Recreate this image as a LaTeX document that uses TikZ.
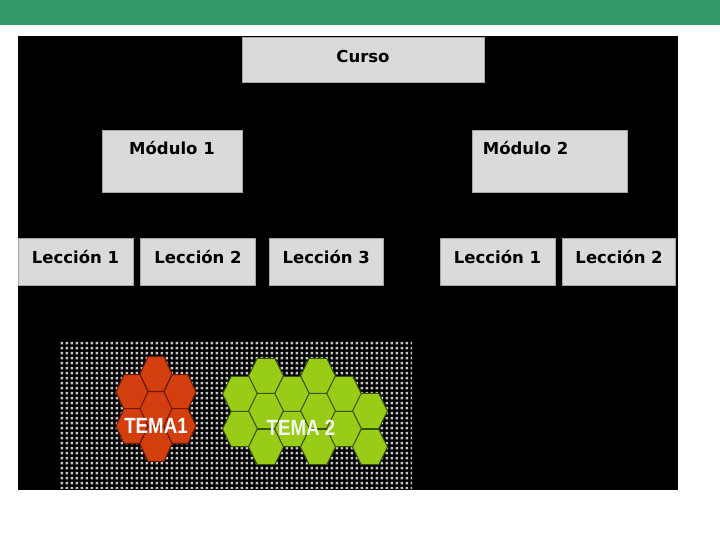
\documentclass[tikz,border=0pt]{standalone}
\usepackage{fontspec}
\setmainfont{DejaVu Sans}
\newfontfamily\temafont{Liberation Sans}
\usetikzlibrary{shapes.geometric, positioning, patterns.meta}
\definecolor{bargreen}{RGB}{52, 153, 104}
\definecolor{boxgray}{RGB}{218, 218, 218}
\definecolor{dotgray}{RGB}{200, 200, 200}
\definecolor{hexred}{RGB}{210, 62, 14}
\definecolor{hexredline}{RGB}{110, 25, 5}
\definecolor{hexgreen}{RGB}{152, 204, 22}
\definecolor{hexgreenline}{RGB}{55, 85, 0}
\tikzdeclarepattern{
  name=pixdots,
  type=uncolored,
  bottom left={(0pt,0pt)},
  top right={(5pt,5pt)},
  tile size={(5pt,5pt)},
  code={\fill (0.8pt,0.8pt) rectangle (3.6pt,3.6pt);}
}
\tikzset{
  unitbox/.style={fill=boxgray, draw=gray!70, line width=0.6pt, inner sep=0pt, font=\fontsize{16.5}{18}\selectfont\bfseries},
  unittitle/.style={inner sep=0pt, font=\fontsize{16.5}{18}\selectfont\bfseries},
  hexcell/.style={regular polygon, regular polygon sides=6, inner sep=0pt, outer sep=0pt, line width=1pt},
  redcell/.style={hexcell, fill=hexred, draw=hexredline, minimum size=32pt, yscale=1.25},
  greencell/.style={hexcell, fill=hexgreen, draw=hexgreenline, minimum size=35pt, yscale=1.17},
  tematext/.style={inner sep=0pt, font=\temafont\fontsize{22}{22}\selectfont\bfseries, xscale=0.85}
}
\begin{document}
\begin{tikzpicture}[x=1pt, y=-1pt, node distance=7pt]
    \useasboundingbox (0,0) rectangle (720,540);

    % page background
    \fill[white] (0,0) rectangle (720,540);
    \fill[bargreen] (0,0) rectangle (720,25);
    \fill[black] (18,36) rectangle (678,490);
    \fill[pattern=pixdots, pattern color=dotgray] (60,341) rectangle (412,488);

    % Course
    \node[unitbox, minimum width=242pt, minimum height=45pt, text depth=7pt] (curso) at (363,59.5) {Curso};

    % Modules
    \node[unitbox, minimum width=140pt, minimum height=62pt] (mod1) at (172,161) {};
    \node[unittitle, anchor=north] (mod1txt) at ([yshift=-11pt]mod1.north) {Módulo 1};
    \node[unitbox, minimum width=155pt, minimum height=62pt] (mod2) at (549.5,161) {};
    \node[unittitle, anchor=north west] (mod2txt) at ([xshift=11pt, yshift=-11pt]mod2.north west) {Módulo 2};

    % Lessons of module 1
    \node[unitbox, minimum width=115pt, minimum height=47pt, text depth=9pt] (l11) at (75.5,261.5) {Lección 1};
    \node[unitbox, minimum width=115pt, minimum height=47pt, text depth=9pt, right=of l11] (l12) {Lección 2};
    \node[unitbox, minimum width=114pt, minimum height=47pt, text depth=9pt, right=13pt of l12] (l13) {Lección 3};

    % Lessons of module 2
    \node[unitbox, minimum width=115pt, minimum height=47pt, text depth=9pt] (l21) at (497.5,261.5) {Lección 1};
    \node[unitbox, minimum width=113pt, minimum height=47pt, text depth=9pt, right=of l21] (l22) {Lección 2};

    % Topic 1 cells
    \node[redcell] (r1) at (156,374) {};
    \node[redcell] (r2) at (132,392) {};
    \node[redcell] (r3) at (180,392) {};
    \node[redcell] (r4) at (156,409) {};
    \node[redcell] (r5) at (132,426) {};
    \node[redcell] (r6) at (180,426) {};
    \node[redcell] (r7) at (156,444) {};

    % Topic 2 cells
    \node[greencell] (g1) at (266,376) {};
    \node[greencell] (g2) at (318,376) {};
    \node[greencell] (g3) at (240,394) {};
    \node[greencell] (g4) at (292,394) {};
    \node[greencell] (g5) at (344,394) {};
    \node[greencell] (g6) at (266,411) {};
    \node[greencell] (g7) at (318,411) {};
    \node[greencell] (g8) at (370,411) {};
    \node[greencell] (g9) at (240,429) {};
    \node[greencell] (g10) at (292,429) {};
    \node[greencell] (g11) at (344,429) {};
    \node[greencell] (g12) at (266,447) {};
    \node[greencell] (g13) at (318,447) {};
    \node[greencell] (g14) at (370,447) {};

    % Topic labels
    \node[tematext, text=white] (tema1) at (156,426) {TEMA1};
    \node[tematext, text=gray!8] (tema2) at (301,428) {TEMA 2};

\end{tikzpicture}
\end{document}
